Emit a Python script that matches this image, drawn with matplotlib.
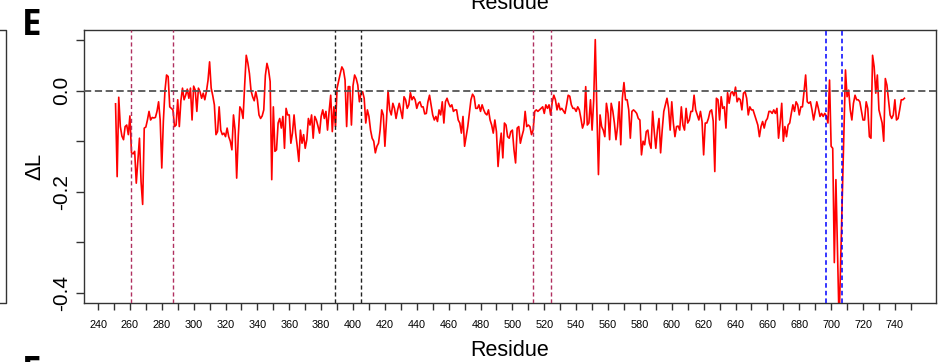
import numpy as np
import matplotlib
matplotlib.use("Agg")
import matplotlib.pyplot as plt
from matplotlib.lines import Line2D

# residues with a Delta L value (the dip near 705 is drawn as one long segment)
residue = list(range(251, 704)) + [705] + list(range(709, 747))

delta_L = [
    -0.026, -0.17, -0.013, -0.071, -0.09, -0.097, -0.071, -0.068, -0.087, -0.05,
    -0.123, -0.125, -0.12, -0.183, -0.14, -0.094, -0.18, -0.225, -0.074, -0.072,
    -0.058, -0.041, -0.058, -0.053, -0.054, -0.053, -0.041, -0.022, -0.058, -0.153,
    -0.06, 0.0, 0.031, 0.028, -0.032, -0.035, -0.038, -0.071, -0.068, -0.018,
    -0.071, -0.02, 0.005, -0.018, -0.009, 0.003, -0.015, 0.005, -0.058, 0.009,
    0.001, -0.041, 0.005, -0.002, -0.015, -0.005, -0.018, -0.002, 0.02, 0.057,
    0.005, -0.01, -0.028, -0.087, -0.081, -0.032, -0.078, -0.087, -0.084, -0.091,
    -0.074, -0.091, -0.1, -0.117, -0.048, -0.078, -0.173, -0.09, -0.032, -0.038,
    -0.055, 0.01, 0.07, 0.055, 0.034, 0.0, -0.012, -0.02, -0.002, -0.018,
    -0.048, -0.055, -0.05, -0.038, 0.03, 0.054, 0.041, 0.018, -0.176, -0.032,
    -0.12, -0.117, -0.064, -0.055, -0.074, -0.051, -0.114, -0.035, -0.048, -0.048,
    -0.104, -0.084, -0.048, -0.084, -0.11, -0.14, -0.078, -0.104, -0.087, -0.114,
    -0.097, -0.055, -0.068, -0.048, -0.094, -0.051, -0.058, -0.07, -0.084, -0.051,
    -0.038, -0.055, -0.041, -0.078, -0.041, -0.009, -0.081, -0.032, -0.071, 0.005,
    0.02, 0.034, 0.047, 0.041, 0.021, -0.071, 0.008, 0.008, -0.068, 0.01,
    0.031, 0.024, 0.011, -0.022, -0.005, -0.002, -0.015, -0.064, -0.038, -0.051,
    -0.078, -0.094, -0.1, -0.123, -0.11, -0.104, -0.078, -0.038, -0.048, -0.11,
    -0.058, 0.0, -0.038, -0.048, -0.025, -0.035, -0.055, -0.038, -0.025, -0.04,
    -0.055, -0.012, -0.018, -0.035, -0.028, -0.004, -0.018, -0.012, -0.018, -0.035,
    -0.025, -0.022, -0.032, -0.032, -0.046, -0.045, -0.022, -0.009, -0.028, -0.048,
    -0.058, -0.051, -0.061, -0.038, -0.048, -0.022, -0.064, -0.022, -0.015, -0.025,
    -0.032, -0.028, -0.041, -0.038, -0.038, -0.058, -0.064, -0.084, -0.051, -0.11,
    -0.091, -0.071, -0.045, -0.018, -0.007, -0.012, -0.035, -0.035, -0.028, -0.041,
    -0.028, -0.038, -0.045, -0.048, -0.038, -0.058, -0.068, -0.084, -0.058, -0.081,
    -0.15, -0.11, -0.084, -0.133, -0.064, -0.068, -0.091, -0.094, -0.081, -0.078,
    -0.117, -0.143, -0.074, -0.071, -0.104, -0.09, -0.078, -0.041, -0.071, -0.068,
    -0.071, -0.087, -0.078, -0.041, -0.038, -0.041, -0.038, -0.035, -0.032, -0.045,
    -0.028, -0.035, -0.028, -0.048, -0.022, -0.009, -0.018, -0.038, -0.025, -0.038,
    -0.035, -0.04, -0.045, -0.028, -0.009, -0.011, -0.028, -0.035, -0.035, -0.041,
    -0.032, -0.038, -0.055, -0.074, -0.064, 0.008, -0.068, -0.064, -0.018, -0.078,
    -0.02, 0.101, -0.038, -0.166, -0.048, -0.071, -0.078, -0.091, -0.025, -0.045,
    -0.097, -0.025, -0.04, -0.064, -0.097, -0.071, -0.022, -0.107, -0.015, 0.016,
    -0.018, -0.018, -0.038, -0.094, -0.041, -0.038, -0.041, -0.045, -0.055, -0.058,
    -0.127, -0.1, -0.107, -0.081, -0.078, -0.104, -0.114, -0.041, -0.081, -0.114,
    -0.078, -0.055, -0.123, -0.078, -0.041, -0.028, -0.015, -0.035, -0.078, -0.022,
    -0.064, -0.091, -0.071, -0.07, -0.078, -0.032, -0.068, -0.078, -0.035, -0.064,
    -0.058, -0.041, -0.041, -0.009, -0.038, -0.048, -0.058, -0.041, -0.061, -0.127,
    -0.064, -0.064, -0.055, -0.041, -0.038, -0.06, -0.16, -0.015, -0.018, -0.058,
    -0.012, -0.035, -0.032, -0.074, -0.004, -0.025, -0.005, -0.002, -0.01, 0.007,
    -0.022, -0.015, -0.018, -0.038, -0.005, -0.002, -0.015, -0.048, -0.032, -0.038,
    -0.038, -0.048, -0.058, -0.068, -0.091, -0.071, -0.061, -0.074, -0.06, -0.055,
    -0.041, -0.041, -0.045, -0.038, -0.045, -0.035, -0.094, -0.064, -0.025, -0.1,
    -0.071, -0.091, -0.068, -0.064, -0.045, -0.028, -0.041, -0.022, -0.028, -0.048,
    -0.032, -0.032, -0.002, 0.031, -0.022, -0.025, -0.022, -0.038, -0.058, -0.041,
    -0.022, -0.035, -0.051, -0.045, -0.051, -0.045, -0.05, -0.064, 0.021, -0.11,
    -0.114, -0.34, -0.176,
    -0.46,
    0.041, -0.012, 0.001, -0.038, -0.058, -0.025, -0.009, -0.018, -0.018, -0.022,
    -0.04, -0.058, -0.058, -0.022, -0.035, -0.091, -0.094, 0.07, 0.047, -0.005,
    0.031, -0.038, -0.051, -0.064, -0.1, 0.024, 0.011, -0.018, -0.048, -0.055,
    -0.048, -0.018, -0.058, -0.055, -0.038, -0.018, -0.018, -0.015,
]

maroon_lines = [261, 287, 513, 524]
black_lines = [389, 405]
blue_lines = [697, 707]

x_ticks = list(range(240, 751, 10))
x_labels = [str(t) if t % 20 == 0 and t <= 740 else "" for t in x_ticks]
y_ticks = [-0.4, -0.3, -0.2, -0.1, 0.0, 0.1]
y_labels = ["-0.4", "", "-0.2", "", "0.0", ""]

plt.rcParams["font.family"] = ["Liberation Sans", "DejaVu Sans"]
edge = "#333333"

W, H = 942, 362
fig = plt.figure(figsize=(W / 100, H / 100), dpi=100)
ax = fig.add_axes([84 / W, 1 - 303 / H, 852 / W, 273 / H])

ax.plot(residue, delta_L, color="#FF0000", lw=1.2, zorder=2)
ax.axhline(0, color="#555555", lw=1.3, ls=(0, (4, 2)), zorder=3)
for r in maroon_lines:
    ax.axvline(r, color="#B03060", lw=1.0, ls=(0, (3, 2)), zorder=3)
for r in black_lines:
    ax.axvline(r, color="#222222", lw=1.0, ls=(0, (3, 2)), zorder=3)
for r in blue_lines:
    ax.axvline(r, color="#0000FF", lw=1.1, ls=(0, (3, 2)), zorder=3)

ax.set_xlim(231.2, 765.8)
ax.set_ylim(-0.42, 0.12)

ax.set_xticks(x_ticks)
ax.set_xticklabels(x_labels, fontsize=7.8)
ax.set_yticks(y_ticks)
ax.set_yticklabels(y_labels, fontsize=15, rotation=90, va="center")
ax.tick_params(axis="x", length=5, width=1, color=edge, pad=7)
ax.tick_params(axis="y", length=6, width=1, color=edge, pad=3)
for s in ax.spines.values():
    s.set_color(edge)
    s.set_linewidth(1.0)

fig.text(510 / W, 1 - 356 / H, "Residue", fontsize=15.5, ha="center", va="baseline")
fig.text(510 / W, 1 - 9 / H, "Residue", fontsize=15.5, ha="center", va="baseline")
fig.text(40 / W, 1 - 166 / H, "ΔL", fontsize=16, ha="center", va="baseline",
         rotation=90, rotation_mode="anchor")

fig.text(22 / W, 1 - 35 / H, "E", fontsize=25, fontweight="bold",
         family=["Open Sans", "DejaVu Sans"], ha="left", va="baseline")
fig.text(22 / W, 1 - 382 / H, "F", fontsize=25, fontweight="bold",
         family=["Open Sans", "DejaVu Sans"], ha="left", va="baseline")

# right edge of the neighbouring panel on the left
fig.add_artist(Line2D([0, 6 / W, 6 / W, 0],
                      [1 - 30 / H, 1 - 30 / H, 1 - 303 / H, 1 - 303 / H],
                      transform=fig.transFigure, color=edge, lw=1.0))

fig.savefig("out.png", dpi=100)
